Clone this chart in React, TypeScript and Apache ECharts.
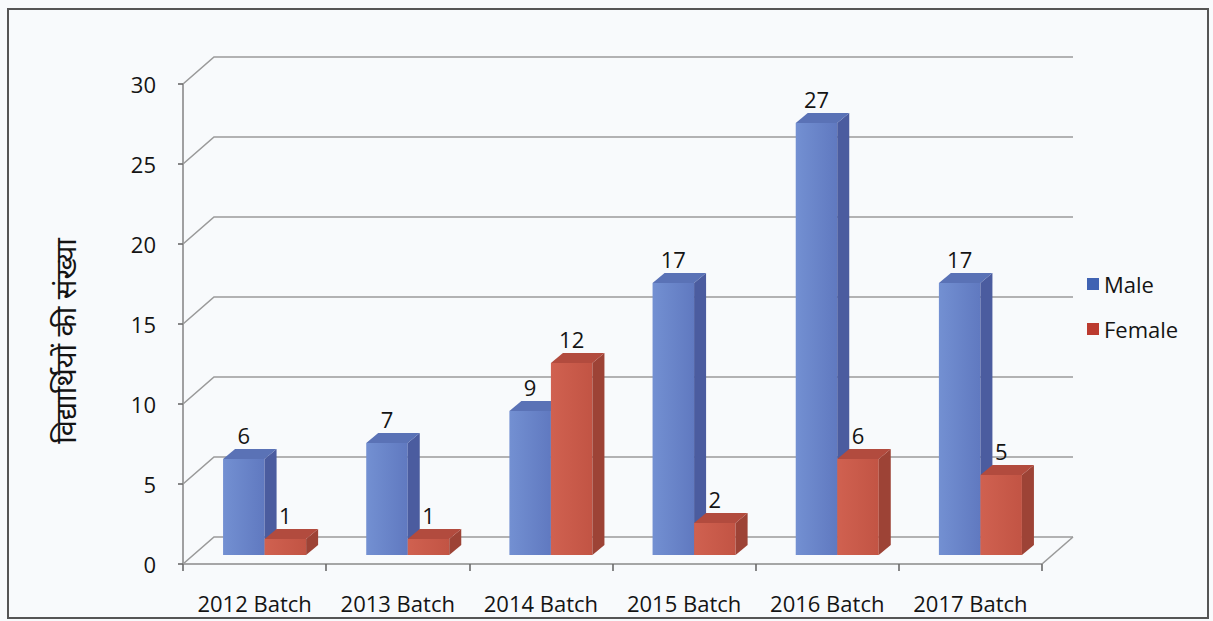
import React, { useEffect, useRef } from "react";
import * as echarts from "echarts";

const categories = ["2012 Batch", "2013 Batch", "2014 Batch", "2015 Batch", "2016 Batch", "2017 Batch"];
const maleValues = [6, 7, 9, 17, 27, 17];
const femaleValues = [1, 1, 12, 2, 6, 5];
const yTicks = [0, 5, 10, 15, 20, 25, 30];
const yAxisTitle = "विद्यार्थियों की संख्या";

const FONT = "'Open Sans', Lato, sans-serif";
const FS = 22;
const FW = 500;
const OX = 10, OY = -9; // bar front offset into depth
const DX = 12, DY = -10; // bar depth
const WX = 31, WY = -27; // back wall depth

const palette = {
  male: { frontL: "#7390d2", frontR: "#6079c0", side: "#4b5c9f", top: "#5a72b6", legend: "#4063b3" },
  female: { frontL: "#d06150", frontR: "#c25444", side: "#9d4336", top: "#b24b3e", legend: "#bb3a2f" },
};

function barRender(kind: "male" | "female") {
  const c = palette[kind];
  return (params: any, api: any) => {
    const ci = api.value(0);
    const v = api.value(1);
    const [cx, y0] = api.coord([ci, 0]);
    const y1 = api.coord([ci, v])[1];
    const band = api.size([1, 0])[0];
    const w = band * 0.29;
    const sx = (kind === "male" ? cx - w : cx) + OX;
    const by = y0 + OY;
    const ty = y1 + OY;
    return {
      type: "group",
      children: [
        {
          type: "rect",
          shape: { x: sx, y: ty, width: w, height: by - ty },
          style: {
            fill: new echarts.graphic.LinearGradient(0, 0, 1, 0, [
              { offset: 0, color: c.frontL },
              { offset: 1, color: c.frontR },
            ]),
          },
        },
        {
          type: "polygon",
          shape: { points: [[sx + w, ty], [sx + w + DX, ty + DY], [sx + w + DX, by + DY], [sx + w, by]] },
          style: { fill: c.side },
        },
        {
          type: "polygon",
          shape: { points: [[sx, ty], [sx + DX, ty + DY], [sx + w + DX, ty + DY], [sx + w, ty]] },
          style: { fill: c.top },
        },
        {
          type: "text",
          style: {
            text: String(v),
            x: sx + w / 2,
            y: ty - 24,
            align: "center",
            verticalAlign: "middle",
            fontSize: FS,
            fontWeight: FW,
            fontFamily: FONT,
            fill: "#141414",
          },
        },
      ],
    };
  };
}

function wallRender(params: any, api: any) {
  const v = api.value(0);
  const cs = params.coordSys;
  const left = cs.x;
  const right = cs.x + cs.width;
  const y = api.coord([0, v])[1];
  const pts = [[left, y], [left + WX, y + WY], [right + WX, y + WY]];
  const children: any[] = [
    { type: "polyline", shape: { points: pts }, style: { stroke: "#9a9a9a", lineWidth: 1.6, fill: "none" } },
  ];
  if (v === 0) {
    children.push({
      type: "line",
      shape: { x1: right, y1: y, x2: right + WX, y2: y + WY },
      style: { stroke: "#9a9a9a", lineWidth: 1.6 },
    });
  }
  return { type: "group", children };
}

export default function App() {
  const ref = useRef<HTMLDivElement>(null);
  useEffect(() => {
    if (!ref.current) return;
    const chart = echarts.init(ref.current, null, { renderer: "svg" });
    chart.setOption({
      animation: false,
      backgroundColor: "#f8fafc",
      grid: { left: 183, right: 171, top: 84, bottom: 57 },
      legend: {
        orient: "vertical",
        left: 1082,
        top: 268,
        icon: "rect",
        itemWidth: 12,
        itemHeight: 12,
        itemGap: 23,
        data: ["Male", "Female"],
        textStyle: { fontSize: FS, fontWeight: FW, fontFamily: FONT, color: "#141414" },
      },
      xAxis: {
        type: "category",
        data: categories,
        axisLine: { show: true, lineStyle: { color: "#8a8a8a", width: 1.6 } },
        axisTick: { show: true, length: 7, lineStyle: { color: "#6a6a6a", width: 1.6 } },
        axisLabel: {
          interval: 0,
          hideOverlap: false,
          margin: 28,
          fontSize: FS,
          fontWeight: FW,
          fontFamily: FONT,
          color: "#141414",
        },
        splitLine: { show: false },
      },
      yAxis: {
        type: "value",
        min: 0,
        max: 30,
        interval: 5,
        axisLine: { show: true, lineStyle: { color: "#8a8a8a", width: 1.6 } },
        axisTick: { show: true, length: 5, lineStyle: { color: "#6a6a6a", width: 1.6 } },
        axisLabel: { margin: 27, fontSize: FS, fontWeight: FW, fontFamily: FONT, color: "#141414" },
        splitLine: { show: false },
      },
      graphic: [
        {
          type: "rect",
          shape: { x: 8, y: 9, width: 1200, height: 609 },
          style: { fill: "none", stroke: "#555", lineWidth: 2 },
          silent: true,
        },
        {
          type: "text",
          x: 64,
          y: 341,
          rotation: Math.PI / 2,
          style: {
            text: yAxisTitle,
            align: "center",
            verticalAlign: "middle",
            fontSize: 29,
            fontFamily: "'Noto Sans', sans-serif",
            fill: "#141414",
          },
          silent: true,
        },
      ],
      series: [
        {
          type: "custom",
          name: "wall",
          z: 1,
          renderItem: wallRender,
          data: yTicks.map((t) => [t]),
          encode: { y: 0 },
          silent: true,
        },
        {
          type: "custom",
          name: "Male",
          z: 2,
          itemStyle: { color: palette.male.legend },
          renderItem: barRender("male"),
          data: maleValues.map((v, i) => [i, v]),
          encode: { x: 0, y: 1 },
        },
        {
          type: "custom",
          name: "Female",
          z: 3,
          itemStyle: { color: palette.female.legend },
          renderItem: barRender("female"),
          data: femaleValues.map((v, i) => [i, v]),
          encode: { x: 0, y: 1 },
        },
      ],
    });
    return () => chart.dispose();
  }, []);
  return (
    <div
      ref={ref}
      style={{ position: "fixed", left: 0, top: 0, width: 1213, height: 621, background: "#f8fafc" }}
    />
  );
}
